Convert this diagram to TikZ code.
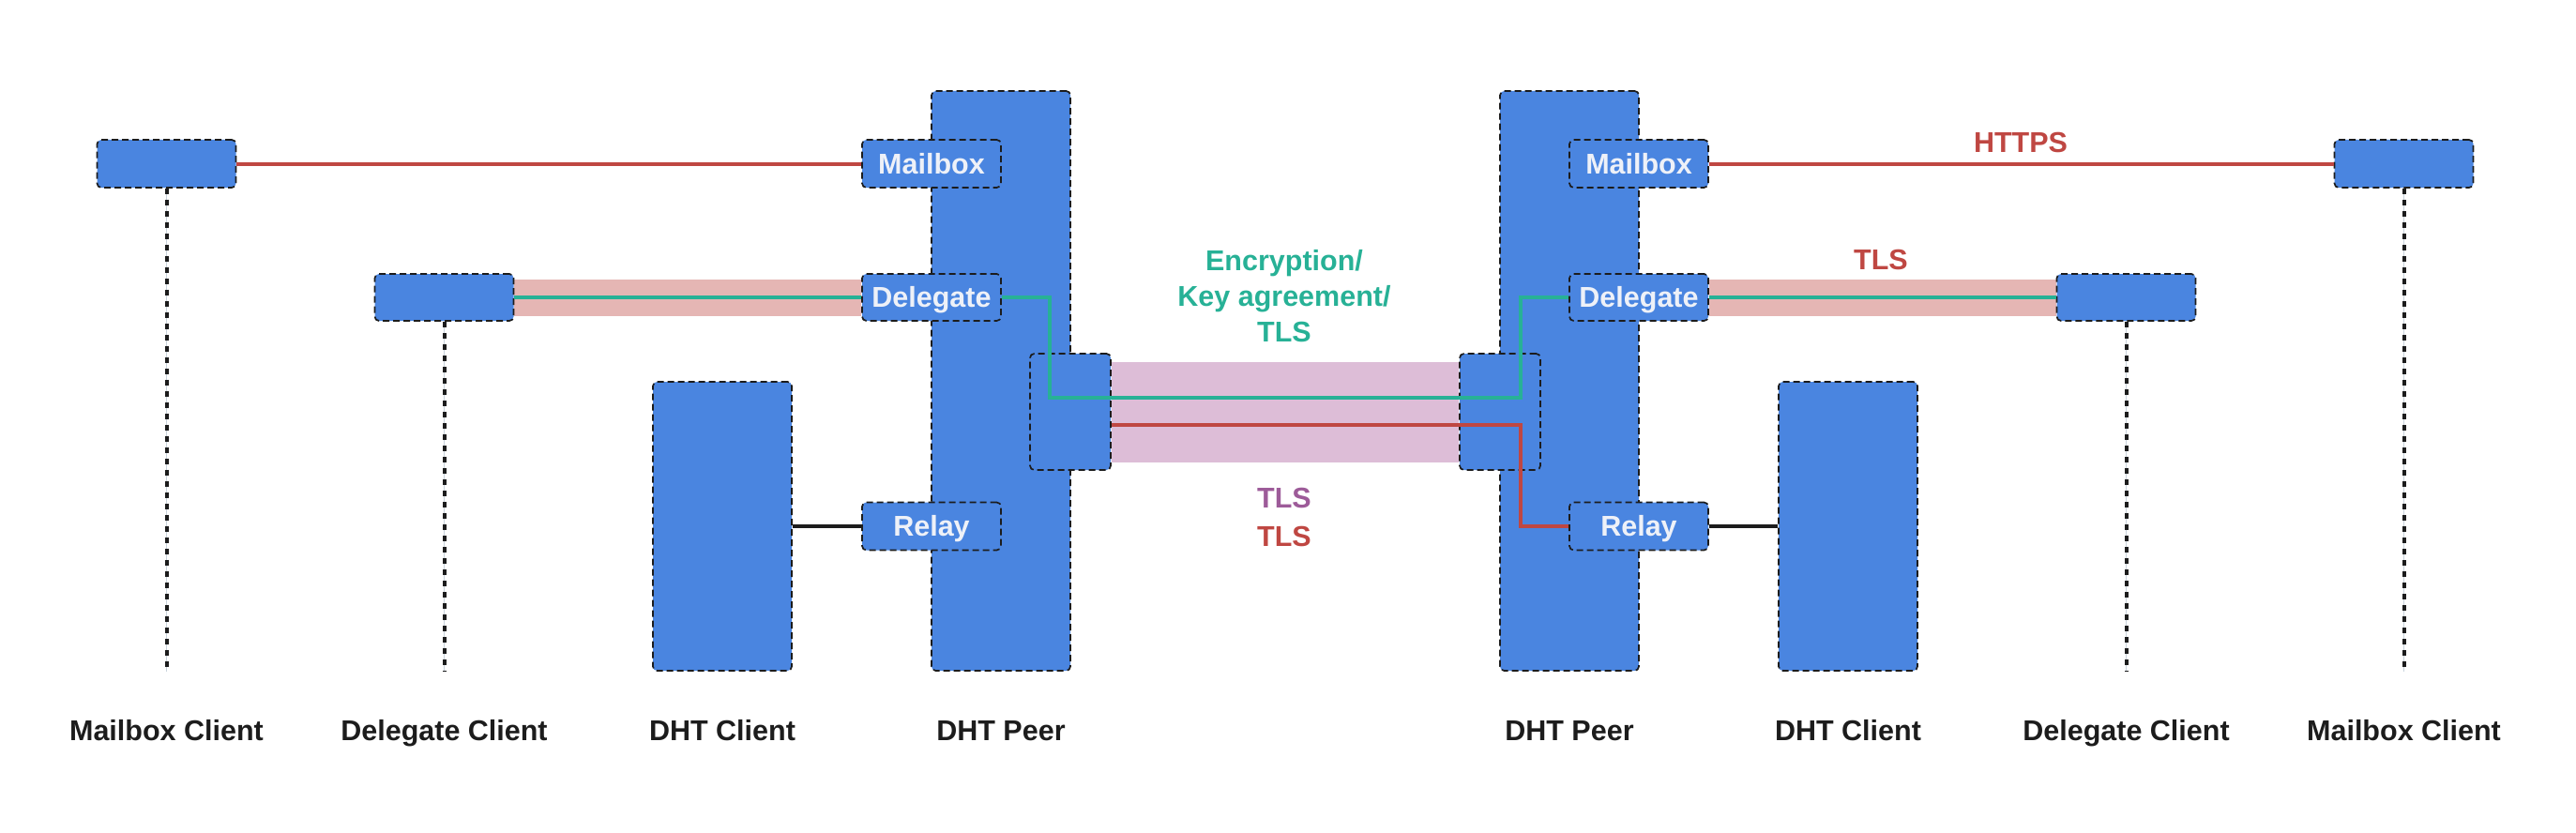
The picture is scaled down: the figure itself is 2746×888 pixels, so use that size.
\documentclass[tikz,border=0pt]{standalone}
\usepackage{fontspec}
\setmainfont{Liberation Sans}
\usetikzlibrary{calc}
\definecolor{nblue}{HTML}{4A85E0}
\definecolor{lred}{HTML}{BF4742}
\definecolor{lgreen}{HTML}{27B196}
\definecolor{lpurple}{HTML}{9D5B99}
\definecolor{pinkb}{HTML}{E5B6B4}
\definecolor{purpb}{HTML}{DDBDD7}
\definecolor{ntext}{HTML}{EEF1F8}
\definecolor{ink}{HTML}{1C1C1C}
\definecolor{faint}{HTML}{C9D3DC}
\pgfdeclarelayer{bg}
\pgfsetlayers{bg,main}
\begin{document}
\begin{tikzpicture}[x=1pt,y=-1pt,
  box/.style={draw=ink, fill=nblue, dash pattern=on 7pt off 4pt, line width=1.7pt,
    rounded corners=4.5pt, inner sep=0pt, text=ntext,
    font=\fontsize{30.5}{36}\selectfont\bfseries, text height=21.8pt, text depth=0pt},
  small/.style={box, minimum width=148pt, minimum height=51pt},
  tall/.style={box, minimum width=148pt},
  lab/.style={font=\fontsize{30.5}{36}\selectfont\bfseries, text=ink, anchor=base, inner sep=0pt},
  clab/.style={font=\fontsize{30.5}{36}\selectfont\bfseries, anchor=base, inner sep=0pt},
  vdash/.style={draw=ink, line width=4pt, dash pattern=on 6pt off 6pt},
  vfaint/.style={draw=faint, line width=1pt},
  rline/.style={draw=lred, line width=4pt},
  gline/.style={draw=lgreen, line width=4pt},
  kline/.style={draw=ink, line width=4pt},
]
\useasboundingbox (0,0) rectangle (2746,888);

% clients and peers (left)
\node[small] (mbcL) at (177.5,174.5) {};
\node[small, minimum height=50pt] (dgcL) at (473.5,317) {};
\node[tall, minimum height=308pt] (dhtcL) at (770,561) {};
\node[tall, minimum height=618pt] (peerL) at (1067,406) {};
\node[small] (mbL) at (993,174.5) {Mailbox};
\node[small, minimum height=50pt] (dgL) at (993,317) {Delegate};
\node[small] (rlL) at (993,561) {Relay};
\node[box, minimum width=86pt, minimum height=124pt] (cbL) at (1141,439) {};

% right side
\node[small] (mbcR) at (2562.5,174.5) {};
\node[small, minimum height=50pt] (dgcR) at (2266.5,317) {};
\node[tall, minimum height=308pt] (dhtcR) at (1970,561) {};
\node[tall, minimum height=618pt] (peerR) at (1673,406) {};
\node[small] (mbR) at (1747,174.5) {Mailbox};
\node[small, minimum height=50pt] (dgR) at (1747,317) {Delegate};
\node[small] (rlR) at (1747,561) {Relay};
\node[box, minimum width=86pt, minimum height=124pt] (cbR) at (1599,439) {};

% bands
\begin{pgfonlayer}{bg}
\draw[pinkb, line width=39pt] (dgcL.east) -- (dgL.west);
\draw[pinkb, line width=39pt] (dgR.east) -- (dgcR.west);
\draw[purpb, line width=107pt] (cbL.east) -- (cbR.west);
\draw[vfaint] (mbcL.south) -- (mbcL.south |- dhtcL.south);
\draw[vfaint] (dgcL.south) -- (dgcL.south |- dhtcL.south);
\draw[vfaint] (mbcR.south) -- (mbcR.south |- dhtcR.south);
\draw[vfaint] (dgcR.south) -- (dgcR.south |- dhtcR.south);
\end{pgfonlayer}

% dashed lifelines
\draw[vdash] (mbcL.south) -- (mbcL.south |- dhtcL.south);
\draw[vdash] (dgcL.south) -- (dgcL.south |- dhtcL.south);
\draw[vdash] (mbcR.south) -- (mbcR.south |- dhtcR.south);
\draw[vdash] (dgcR.south) -- (dgcR.south |- dhtcR.south);

% connectors
\draw[rline] (mbcL.east) -- (mbL.west);
\draw[rline] (mbR.east) -- (mbcR.west);
\draw[kline] (dhtcL.east) -- (rlL.west);
\draw[kline] (rlR.east) -- (dhtcR.west);
\draw[gline] (dgcL.east) -- (dgL.west);
\draw[gline] (dgR.east) -- (dgcR.west);
\coordinate (g1) at (1119,424);
\coordinate (g2) at (1621,424);
\draw[gline] (dgL.east) -| (g1) -- (g2) |- (dgR.west);
\coordinate (r1) at (1621,453);
\draw[rline] (cbL.east |- r1) -- (r1) |- (rlR.west);

% coloured labels
\node[clab, text=lred] (https) at (2154,162.7) {HTTPS};
\node[clab, text=lred] (tlsR) at (2005,287.3) {TLS};
\node[clab, text=lgreen] (enc1) at (1369,288.3) {Encryption/};
\node[clab, text=lgreen] (enc2) at (1369,326) {Key agreement/};
\node[clab, text=lgreen] (enc3) at (1369,364.3) {TLS};
\node[clab, text=lpurple] (tlsP) at (1369,541.7) {TLS};
\node[clab, text=lred] (tlsr2) at (1369,582.3) {TLS};

% bottom labels
\node[lab] (l1) at (177.5,789.3) {Mailbox Client};
\node[lab] (l2) at (473.5,789.3) {Delegate Client};
\node[lab] (l3) at (770,789.3) {DHT Client};
\node[lab] (l4) at (1067,789.3) {DHT Peer};
\node[lab] (l5) at (1673,789.3) {DHT Peer};
\node[lab] (l6) at (1970,789.3) {DHT Client};
\node[lab] (l7) at (2266.5,789.3) {Delegate Client};
\node[lab] (l8) at (2562.5,789.3) {Mailbox Client};
\end{tikzpicture}
\end{document}
